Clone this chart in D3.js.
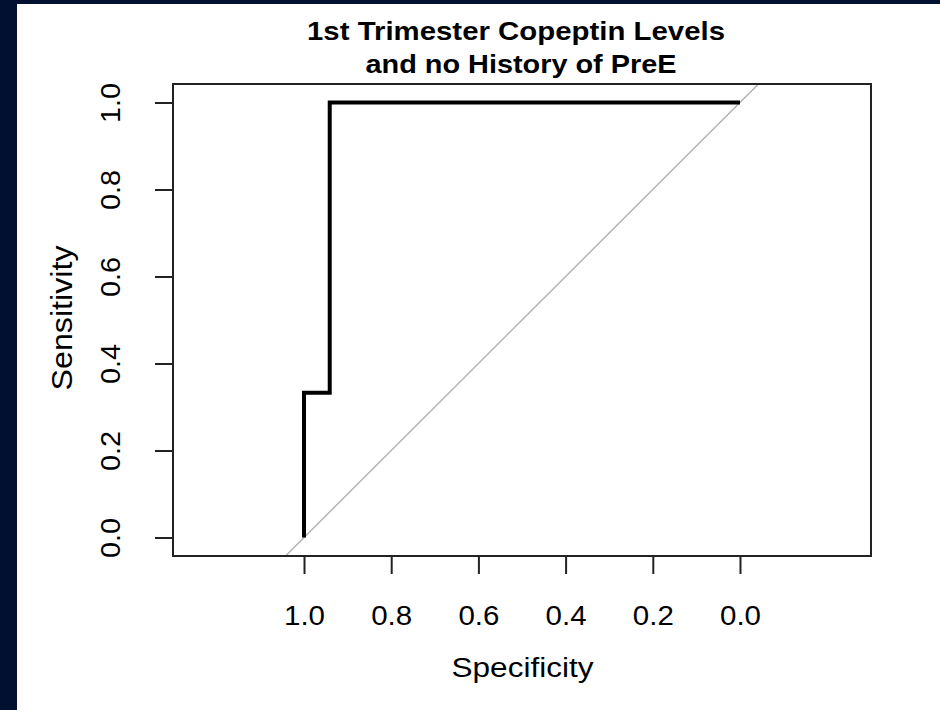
<!DOCTYPE html>
<html>
<head>
<meta charset="utf-8">
<script src="https://cdn.jsdelivr.net/npm/d3@7"></script>
<style>
  html, body { margin: 0; padding: 0; background: #011031; }
  svg { display: block; }
  text { font-family: "Liberation Sans", Arial, sans-serif; fill: #000; }
</style>
</head>
<body>
<svg id="chart" width="940" height="710"></svg>
<script>
// ROC curve data (pROC-style: specificity on reversed x axis)
const specificity = [1.0, 1.0, 0.941, 0.941, 0.0];
const sensitivity = [0.0, 0.333, 0.333, 1.0, 1.0];
const xTicks = [1.0, 0.8, 0.6, 0.4, 0.2, 0.0];
const yTicks = [0.0, 0.2, 0.4, 0.6, 0.8, 1.0];
const titleLines = ["1st Trimester Copeptin Levels", "and no History of PreE"];
const xLabel = "Specificity";
const yLabel = "Sensitivity";

const svg = d3.select("#chart");
svg.append("rect").attr("x", 17).attr("y", 4).attr("width", 923).attr("height", 706).attr("fill", "#fff");

const L = 173, R = 871, T = 84, B = 556;
const x = d3.scaleLinear().domain([1.3005, -0.3005]).range([L, R]);
const y = d3.scaleLinear().domain([-0.0425, 1.0425]).range([B, T]);

svg.append("clipPath").attr("id", "clip")
  .append("rect").attr("x", L).attr("y", T).attr("width", R - L).attr("height", B - T);

// diagonal reference line
svg.append("line")
  .attr("clip-path", "url(#clip)")
  .attr("x1", x(1.0425)).attr("y1", y(1 - 1.0425))
  .attr("x2", x(-0.0425)).attr("y2", y(1 + 0.0425))
  .attr("stroke", "#b4b4b4").attr("stroke-width", 1.5);

// ROC curve
const pts = specificity.map((s, i) => [s, sensitivity[i]]);
svg.append("path")
  .datum(pts)
  .attr("d", d3.line().x(d => x(d[0])).y(d => y(d[1])))
  .attr("fill", "none").attr("stroke", "#000").attr("stroke-width", 4)
  .attr("stroke-linejoin", "miter").attr("stroke-linecap", "butt");

// box
svg.append("rect").attr("x", L).attr("y", T).attr("width", R - L).attr("height", B - T)
  .attr("fill", "none").attr("stroke", "#222").attr("stroke-width", 2);

// x axis
const gx = svg.append("g").attr("transform", `translate(0,${B})`)
  .call(d3.axisBottom(x).tickValues(xTicks).tickFormat(d3.format(".1f")).tickSize(18));
gx.select(".domain").remove();
gx.selectAll(".tick line").attr("stroke", "#222").attr("stroke-width", 2);
gx.selectAll(".tick text").attr("y", 69).attr("dy", 0)
  .attr("textLength", 41).attr("lengthAdjust", "spacingAndGlyphs")
  .style("font-size", "27px").style("font-family", "Liberation Sans, Arial, sans-serif").attr("fill", "#000");

// y axis
const gy = svg.append("g").attr("transform", `translate(${L},0)`)
  .call(d3.axisLeft(y).tickValues(yTicks).tickFormat(d3.format(".1f")).tickSize(18));
gy.select(".domain").remove();
gy.append("line").attr("x1", 0).attr("x2", 0).attr("y1", y(0)).attr("y2", y(1))
  .attr("stroke", "#222").attr("stroke-width", 2);
gy.selectAll(".tick line").attr("stroke", "#222").attr("stroke-width", 2);
gy.selectAll(".tick text")
  .attr("x", 0).attr("y", 0).attr("dy", 0)
  .attr("text-anchor", "middle")
  .attr("textLength", 40).attr("lengthAdjust", "spacingAndGlyphs")
  .attr("transform", "translate(-53,0) rotate(-90)")
  .style("font-size", "27px").style("font-family", "Liberation Sans, Arial, sans-serif").attr("fill", "#000");

// axis titles
svg.append("text").attr("x", 522.5).attr("y", 677).attr("text-anchor", "middle")
  .attr("textLength", 142).attr("lengthAdjust", "spacingAndGlyphs")
  .style("font-size", "27px").text(xLabel);
svg.append("text").attr("transform", `translate(72,318) rotate(-90)`)
  .attr("text-anchor", "middle")
  .attr("textLength", 145).attr("lengthAdjust", "spacingAndGlyphs")
  .style("font-size", "30px").text(yLabel);

// title
const titleCenters = [516, 521];
const titleWidths = [418, 311];
svg.selectAll(".title").data(titleLines).enter().append("text")
  .attr("class", "title")
  .attr("x", (d, i) => titleCenters[i]).attr("y", (d, i) => 39.5 + i * 33.5)
  .attr("text-anchor", "middle")
  .attr("textLength", (d, i) => titleWidths[i]).attr("lengthAdjust", "spacingAndGlyphs")
  .style("font-size", "25px").style("font-weight", "bold")
  .text(d => d);
</script>
</body>
</html>
